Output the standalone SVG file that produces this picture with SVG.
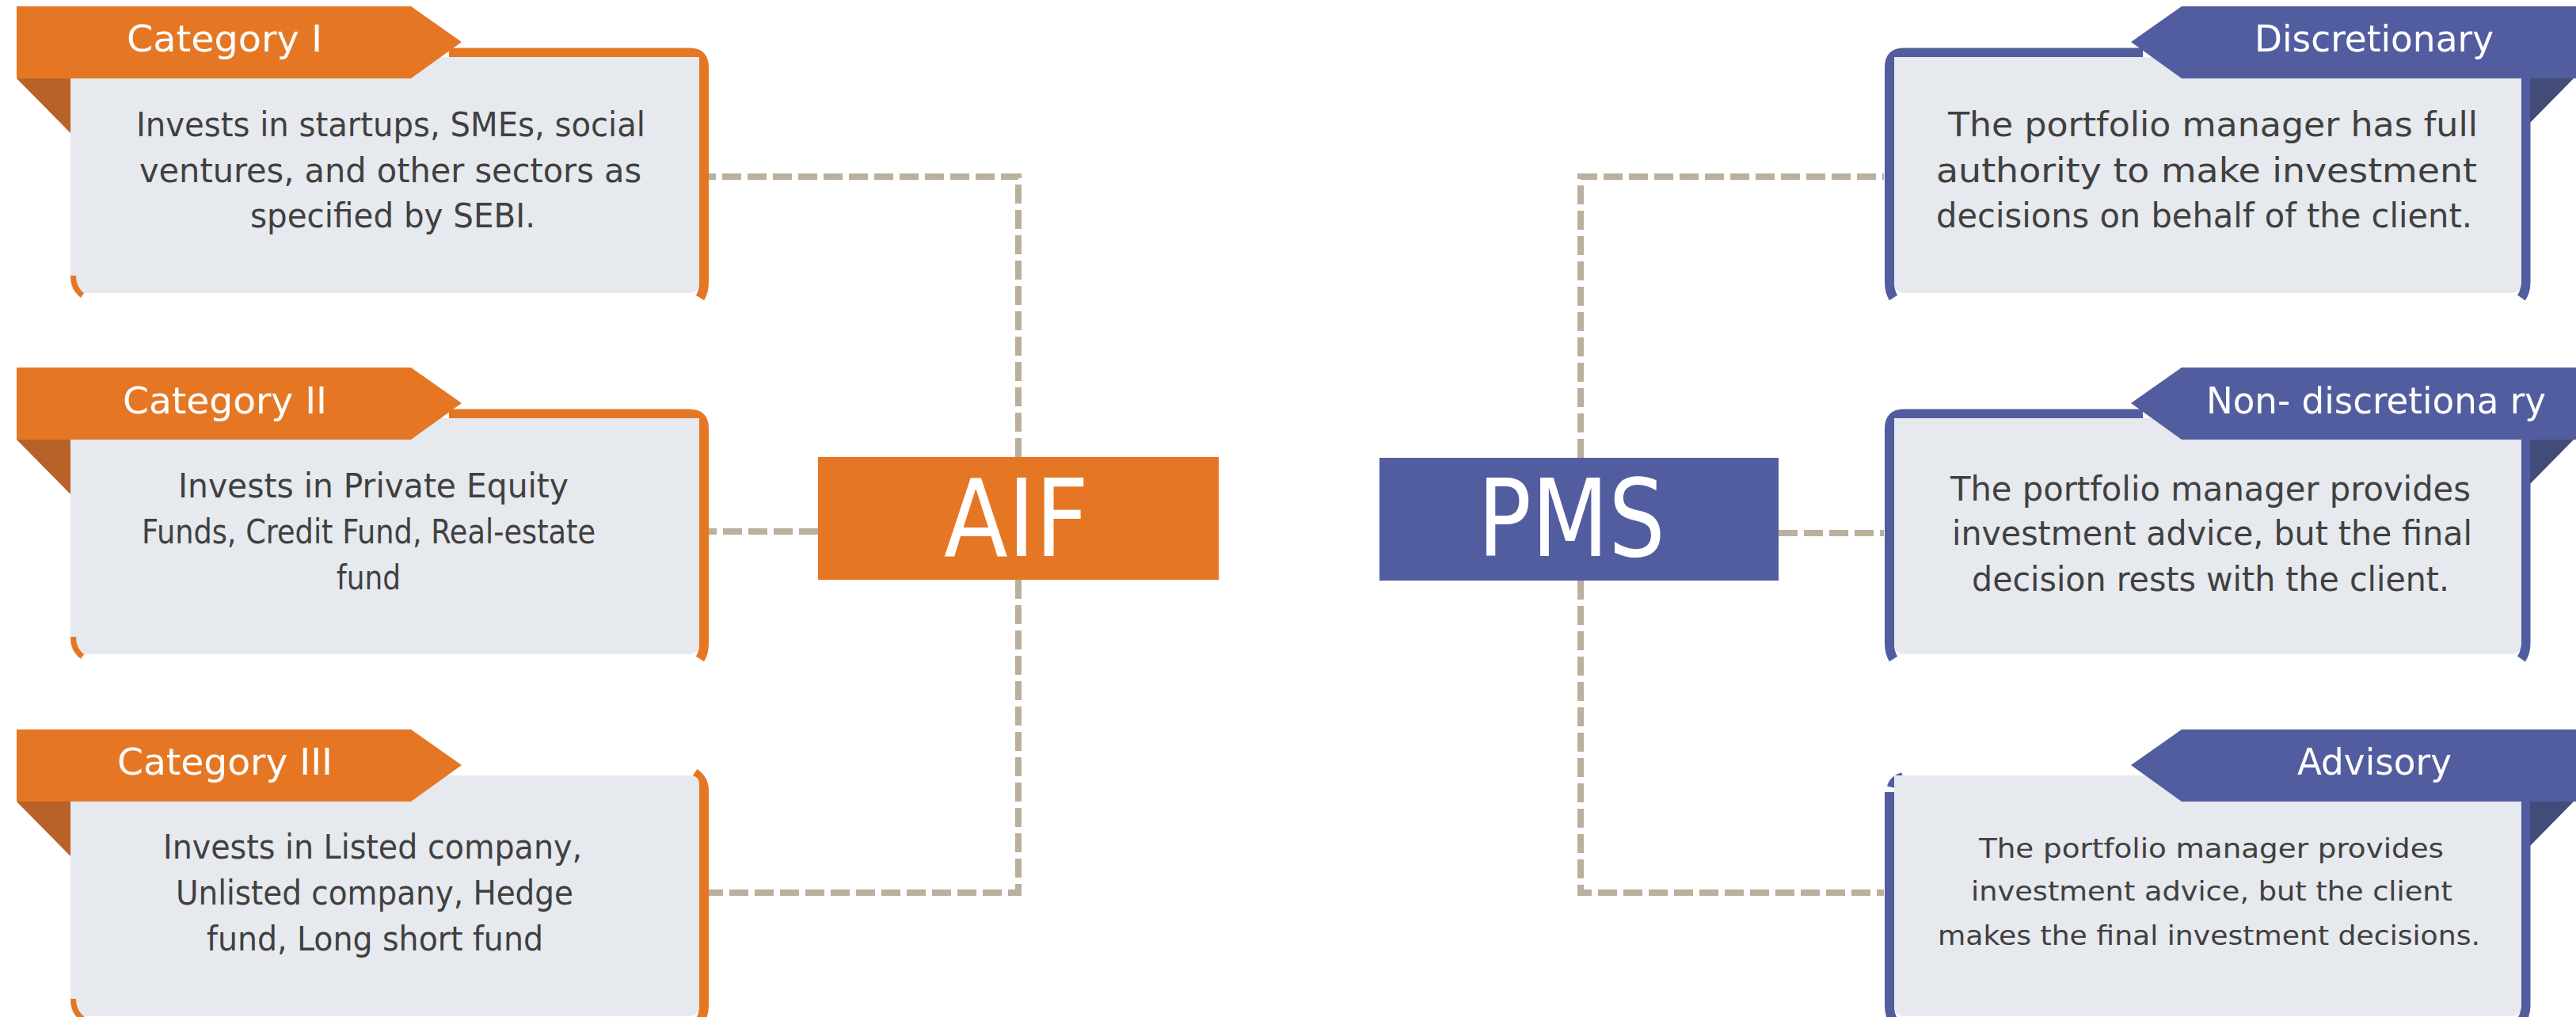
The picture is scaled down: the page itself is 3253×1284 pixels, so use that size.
<svg xmlns="http://www.w3.org/2000/svg" width="3253" height="1284" viewBox="0 0 3253 1284">
<style>
.t{font-family:"DejaVu Sans Condensed","DejaVu Sans","Open Sans",sans-serif;font-stretch:condensed}
.body{font-size:42px;fill:#404040}
.small{font-size:34px;fill:#404040}
.ban{font-size:46px;fill:#ffffff}
.big{font-size:136px;fill:#ffffff}
.conn{stroke:#BBAF9D;stroke-width:8;fill:none;stroke-dasharray:24 8}
.fillL{fill:#E6E9EE}
.ob{stroke:#E57724;stroke-width:12;fill:none}
.bb{stroke:#525D9F;stroke-width:12;fill:none}
.oBan{fill:#E57724}
.bBan{fill:#525D9F}
.oSh{fill:#B8622A}
.bSh{fill:#434C78}
</style>
<rect width="3253" height="1284" fill="#ffffff"/>

<g id="connectors">
<path class="conn" d="M1286 577 V223 H895"/>
<path class="conn" d="M1286 732 V1127 H895"/>
<path class="conn" d="M1033 671 H895"/>
<path class="conn" d="M1996 578 V223 H2379"/>
<path class="conn" d="M1996 733 V1127 H2379"/>
<path class="conn" d="M2246 673 H2379"/>
</g>

<g id="aif">
<rect x="1033" y="577" width="506" height="155" fill="#E57724"/>
<text class="t big" x="1192" y="702" textLength="183" lengthAdjust="spacingAndGlyphs">AIF</text>
</g>
<g id="pms">
<rect x="1742" y="578" width="504" height="155" fill="#525D9F"/>
<text class="t big" x="1866" y="702" textLength="237" lengthAdjust="spacingAndGlyphs">PMS</text>
</g>

<g id="cat1">
<path class="ob" d="M567 66.5 H871 Q889 66.5 889 84.5 V356 Q889 368 884 376"/>
<path class="fillL" d="M89 72 H883 V356 Q883 370 869 370 H103 Q89 370 89 356 Z"/>
<path class="ob" style="stroke-width:7" d="M92.5 348 Q92.5 364 104 373"/>
<polygon class="oSh" points="21,99 89,99 89,168"/>
<polygon class="oBan" points="21,8 519,8 583,53 519,99 21,99"/>
<text class="t ban" x="160" y="65" textLength="247" lengthAdjust="spacingAndGlyphs">Category I</text>
<text class="t body" x="172" y="172" textLength="643" lengthAdjust="spacingAndGlyphs">Invests in startups, SMEs, social</text>
<text class="t body" x="176" y="230" textLength="634" lengthAdjust="spacingAndGlyphs">ventures, and other sectors as</text>
<text class="t body" x="316" y="287" textLength="360" lengthAdjust="spacingAndGlyphs">specified by SEBI.</text>
</g>

<g id="cat2">
<path class="ob" d="M567 522.5 H871 Q889 522.5 889 540.5 V812 Q889 824 884 832"/>
<path class="fillL" d="M89 528 H883 V812 Q883 826 869 826 H103 Q89 826 89 812 Z"/>
<path class="ob" style="stroke-width:7" d="M92.5 804 Q92.5 820 104 829"/>
<polygon class="oSh" points="21,555 89,555 89,624"/>
<polygon class="oBan" points="21,464 519,464 583,509 519,555 21,555"/>
<text class="t ban" x="155" y="522" textLength="258" lengthAdjust="spacingAndGlyphs">Category II</text>
<text class="t body" x="225" y="628" textLength="493" lengthAdjust="spacingAndGlyphs">Invests in Private Equity</text>
<text class="t body" x="179" y="686" textLength="573" lengthAdjust="spacingAndGlyphs">Funds, Credit Fund, Real-estate</text>
<text class="t body" x="425" y="744" textLength="81" lengthAdjust="spacingAndGlyphs">fund</text>
</g>

<g id="cat3">
<path class="ob" d="M877 976 Q889 984 889 998 V1269 Q889 1281 884 1289"/>
<path class="fillL" d="M89 979 H871 Q883 979 883 991 V1269 Q883 1283 869 1283 H103 Q89 1283 89 1269 Z"/>
<path class="ob" style="stroke-width:7" d="M92.5 1261 Q92.5 1277 104 1286"/>
<polygon class="oSh" points="21,1012 89,1012 89,1081"/>
<polygon class="oBan" points="21,921 519,921 583,966 519,1012 21,1012"/>
<text class="t ban" x="148" y="978" textLength="272" lengthAdjust="spacingAndGlyphs">Category III</text>
<text class="t body" x="206" y="1084" textLength="529" lengthAdjust="spacingAndGlyphs">Invests in Listed company,</text>
<text class="t body" x="222" y="1142" textLength="502" lengthAdjust="spacingAndGlyphs">Unlisted company, Hedge</text>
<text class="t body" x="261" y="1200" textLength="425" lengthAdjust="spacingAndGlyphs">fund, Long short fund</text>
</g>

<g id="discretionary">
<path class="bb" d="M2706 66.5 H2404 Q2386 66.5 2386 84.5 V356 Q2386 368 2391 376"/>
<path class="bb" d="M3189.5 99 V356 Q3189.5 368 3184 376"/>
<path class="fillL" d="M2392 72 H3184 V356 Q3184 370 3170 370 H2406 Q2392 370 2392 356 Z"/>
<polygon class="bSh" points="3195,99 3250,99 3195,155"/>
<polygon class="bBan" points="3253,8 2755,8 2691,53 2755,99 3253,99"/>
<text class="t ban" x="2847" y="65" textLength="302" lengthAdjust="spacingAndGlyphs">Discretionary</text>
<text class="t body" x="2460" y="172" textLength="669" lengthAdjust="spacingAndGlyphs">The portfolio manager has full</text>
<text class="t body" x="2445" y="230" textLength="683" lengthAdjust="spacingAndGlyphs">authority to make investment</text>
<text class="t body" x="2445" y="287" textLength="677" lengthAdjust="spacingAndGlyphs">decisions on behalf of the client.</text>
</g>

<g id="non-discretionary">
<path class="bb" d="M2706 522.5 H2404 Q2386 522.5 2386 540.5 V812 Q2386 824 2391 832"/>
<path class="bb" d="M3189.5 555 V812 Q3189.5 824 3184 832"/>
<path class="fillL" d="M2392 528 H3184 V812 Q3184 826 3170 826 H2406 Q2392 826 2392 812 Z"/>
<polygon class="bSh" points="3195,555 3250,555 3195,611"/>
<polygon class="bBan" points="3253,464 2755,464 2691,509 2755,555 3253,555"/>
<text class="t ban" x="2786" y="522" textLength="429" lengthAdjust="spacingAndGlyphs">Non- discretiona ry</text>
<text class="t body" x="2463" y="632" textLength="657" lengthAdjust="spacingAndGlyphs">The portfolio manager provides</text>
<text class="t body" x="2465" y="688" textLength="657" lengthAdjust="spacingAndGlyphs">investment advice, but the final</text>
<text class="t body" x="2490" y="746" textLength="603" lengthAdjust="spacingAndGlyphs">decision rests with the client.</text>
</g>

<g id="advisory">
<path class="bb" d="M2403 981 Q2391 985 2389 994"/>
<path class="bb" d="M2386 1000 V1269 Q2386 1281 2391 1289"/>
<path class="bb" d="M3189.5 1012 V1269 Q3189.5 1281 3184 1289"/>
<path class="fillL" d="M2392 979 H3184 V1269 Q3184 1283 3170 1283 H2406 Q2392 1283 2392 1269 Z"/>
<polygon class="bSh" points="3195,1012 3250,1012 3195,1068"/>
<polygon class="bBan" points="3253,921 2755,921 2691,966 2755,1012 3253,1012"/>
<text class="t ban" x="2901" y="978" textLength="195" lengthAdjust="spacingAndGlyphs">Advisory</text>
<text class="t small" x="2499" y="1083" textLength="587" lengthAdjust="spacingAndGlyphs">The portfolio manager provides</text>
<text class="t small" x="2489" y="1137" textLength="608" lengthAdjust="spacingAndGlyphs">investment advice, but the client</text>
<text class="t small" x="2447" y="1193" textLength="685" lengthAdjust="spacingAndGlyphs">makes the final investment decisions.</text>
</g>
</svg>
